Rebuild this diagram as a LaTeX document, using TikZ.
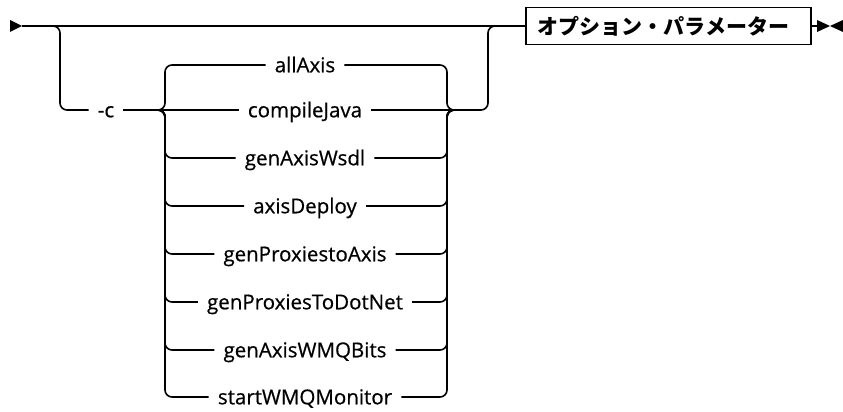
\documentclass[tikz,border=0pt]{standalone}
\usepackage{fontspec}
\setmainfont{Open Sans}
\newfontfamily\kwfont{Open Sans}[FakeBold=0.6]
\newfontfamily\cjk{Noto Sans CJK JP}

\tikzset{
	rail/.style={line width=1.6pt, rounded corners=7pt},
	kw/.style={font=\fontsize{20.5}{24}\selectfont\kwfont, inner xsep=9pt, inner ysep=0pt, text height=14.6pt, text depth=0pt},
	optbox/.style={draw, line width=1.6pt, minimum width=285pt, minimum height=37pt, inner sep=0pt, font=\fontsize{21}{24}\selectfont\cjk\bfseries}
}

\begin{document}
\begin{tikzpicture}[x=1pt, y=-1pt]
	\useasboundingbox (0,0) rectangle (843,412);

	% 1. 起点, 终点, 参数框
	\fill (10,20) -- (22,26) -- (10,32) -- cycle;
	\coordinate (s) at (22,26);
	\node[optbox] (opt) at (668.5,26) {オプション・パラメーター\hspace*{10pt}};
	\coordinate (e) at (817,26);
	\fill (817,20) -- (830,26) -- (817,32) -- cycle;
	\fill (843,20) -- (830,26) -- (843,32) -- cycle;
	\draw[rail] (s) -- (opt.west);
	\draw[rail] (opt.east) -- (e);

	% 2. 选项 -c
	\coordinate (lsplit) at (60,26);
	\node[kw] (minusc) at (106,110) {-c};
	\draw[rail] (40,26) -- (lsplit) |- (minusc.west);

	% 3. 子命令
	\node[kw] (allaxis) at (305,65) {allAxis};
	\node[kw] (compilejava) at (305,110) {compileJava};
	\node[kw] (genaxiswsdl) at (305,158) {genAxisWsdl};
	\node[kw] (axisdeploy) at (305,206) {axisDeploy};
	\node[kw] (genproxiestoaxis) at (305,254) {genProxiestoAxis};
	\node[kw] (genproxiestodotnet) at (305,302) {genProxiesToDotNet};
	\node[kw] (genaxiswmqbits) at (305,350) {genAxisWMQBits};
	\node[kw] (startwmqmonitor) at (305,397) {startWMQMonitor};

	% 4. 左分支
	\coordinate (cl) at (165,110);
	\draw[rail] (minusc.east) -- (cl) |- (allaxis.west);
	\draw[rail] (minusc.east) -- (compilejava.west);
	\draw[rail] (minusc.east) -- (cl) |- (genaxiswsdl.west);
	\draw[rail] (minusc.east) -- (cl) |- (axisdeploy.west);
	\draw[rail] (minusc.east) -- (cl) |- (genproxiestoaxis.west);
	\draw[rail] (minusc.east) -- (cl) |- (genproxiestodotnet.west);
	\draw[rail] (minusc.east) -- (cl) |- (genaxiswmqbits.west);
	\draw[rail] (minusc.east) -- (cl) |- (startwmqmonitor.west);

	% 5. 右分支
	\coordinate (cr) at (447,110);
	\coordinate (rj) at (470,110);
	\coordinate (rsplit) at (488,110);
	\draw[rail] (allaxis.east) -| (cr) -- (rj);
	\draw[rail] (compilejava.east) -- (rj);
	\draw[rail] (genaxiswsdl.east) -| (cr) -- (rj);
	\draw[rail] (axisdeploy.east) -| (cr) -- (rj);
	\draw[rail] (genproxiestoaxis.east) -| (cr) -- (rj);
	\draw[rail] (genproxiestodotnet.east) -| (cr) -- (rj);
	\draw[rail] (genaxiswmqbits.east) -| (cr) -- (rj);
	\draw[rail] (startwmqmonitor.east) -| (cr) -- (rj);
	\draw[rail] (rj) -- (rsplit) |- (opt.west);
\end{tikzpicture}
\end{document}
